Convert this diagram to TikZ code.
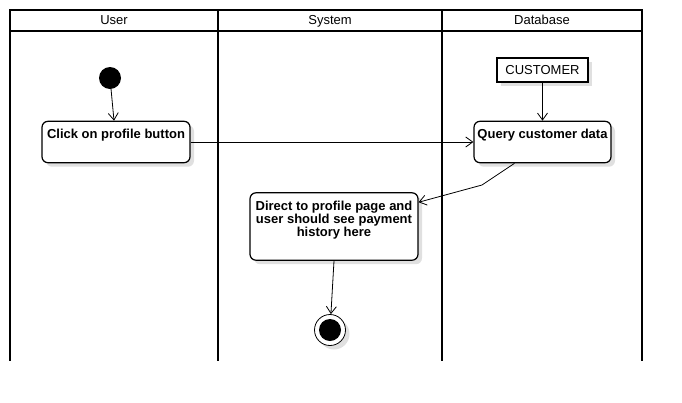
\documentclass[tikz,border=0pt]{standalone}
\usepackage{fontspec}
\setmainfont{Liberation Sans}
\usetikzlibrary{positioning}
\usetikzlibrary{calc}
\usetikzlibrary{arrows.meta}
\usetikzlibrary{shadows}
\tikzset{shade/.style={drop shadow={shadow xshift=4pt,shadow yshift=-4pt,fill=black!12,opacity=1}}}

\begin{document}
\begin{tikzpicture}[x=1pt,y=-1pt,
    lane/.style={line width=2pt},
    title/.style={font=\fontsize{13}{14}\selectfont, text height=9pt, text depth=3pt},
    action/.style={draw, line width=1.2pt, rounded corners=6pt, fill=white, shade, align=center,
        font=\fontsize{13}{13}\selectfont\bfseries, inner ysep=8pt, inner xsep=3pt},
    flow/.style={-{Straight Barb[length=7pt,width=10pt]}, line width=0.8pt}]
    \useasboundingbox (0,0) rectangle (682,402);

    % swimlanes
    \draw[lane] (10,10) rectangle (642,31);
    \draw[lane] (10,31) -- (10,361);
    \draw[lane] (218,10) -- (218,361);
    \draw[lane] (442,10) -- (442,361);
    \draw[lane] (642,31) -- (642,361);
    \node (userlane) at (114,21) [title] {User};
    \node (systemlane) at (330,21) [title] {System};
    \node (dblane) at (542,21) [title] {Database};

    \node (start) at (110,78) [circle, fill=black, minimum size=22pt, inner sep=0pt] {};
    \node (click) at (116,142) [action, minimum width=148pt, minimum height=40pt, text depth=16pt] {Click on profile button};
    \node (query) at (542.5,142) [action, minimum width=137pt, minimum height=40pt, text depth=16pt] {Query customer data};
    \node (customer) at (542.5,70) [draw, line width=1.2pt, fill=white, shade, minimum width=91pt, minimum height=24pt,
        font=\fontsize{13}{13}\selectfont] {CUSTOMER};
    \node (direct) at (334,226.5) [action, minimum width=168pt, minimum height=67pt, text depth=16pt]
        {Direct to profile page and\\user should see payment\\history here};
    \node (stop) at (330,330) [circle, draw, line width=0.8pt, fill=white, shade, minimum size=31pt, inner sep=0pt,
        path picture={\fill[black] (path picture bounding box.center) circle (11pt);}] {};
    \coordinate (bend) at (482,185);

    \draw[flow] (start) -- (click);
    \draw[flow] (click) -- (query);
    \draw[flow] (customer) -- (query);
    \draw[flow] ($(query.south)+(-28,0)$) -- (bend) -- (direct.16);
    \draw[flow] (direct.south) -- (stop);
\end{tikzpicture}
\end{document}
